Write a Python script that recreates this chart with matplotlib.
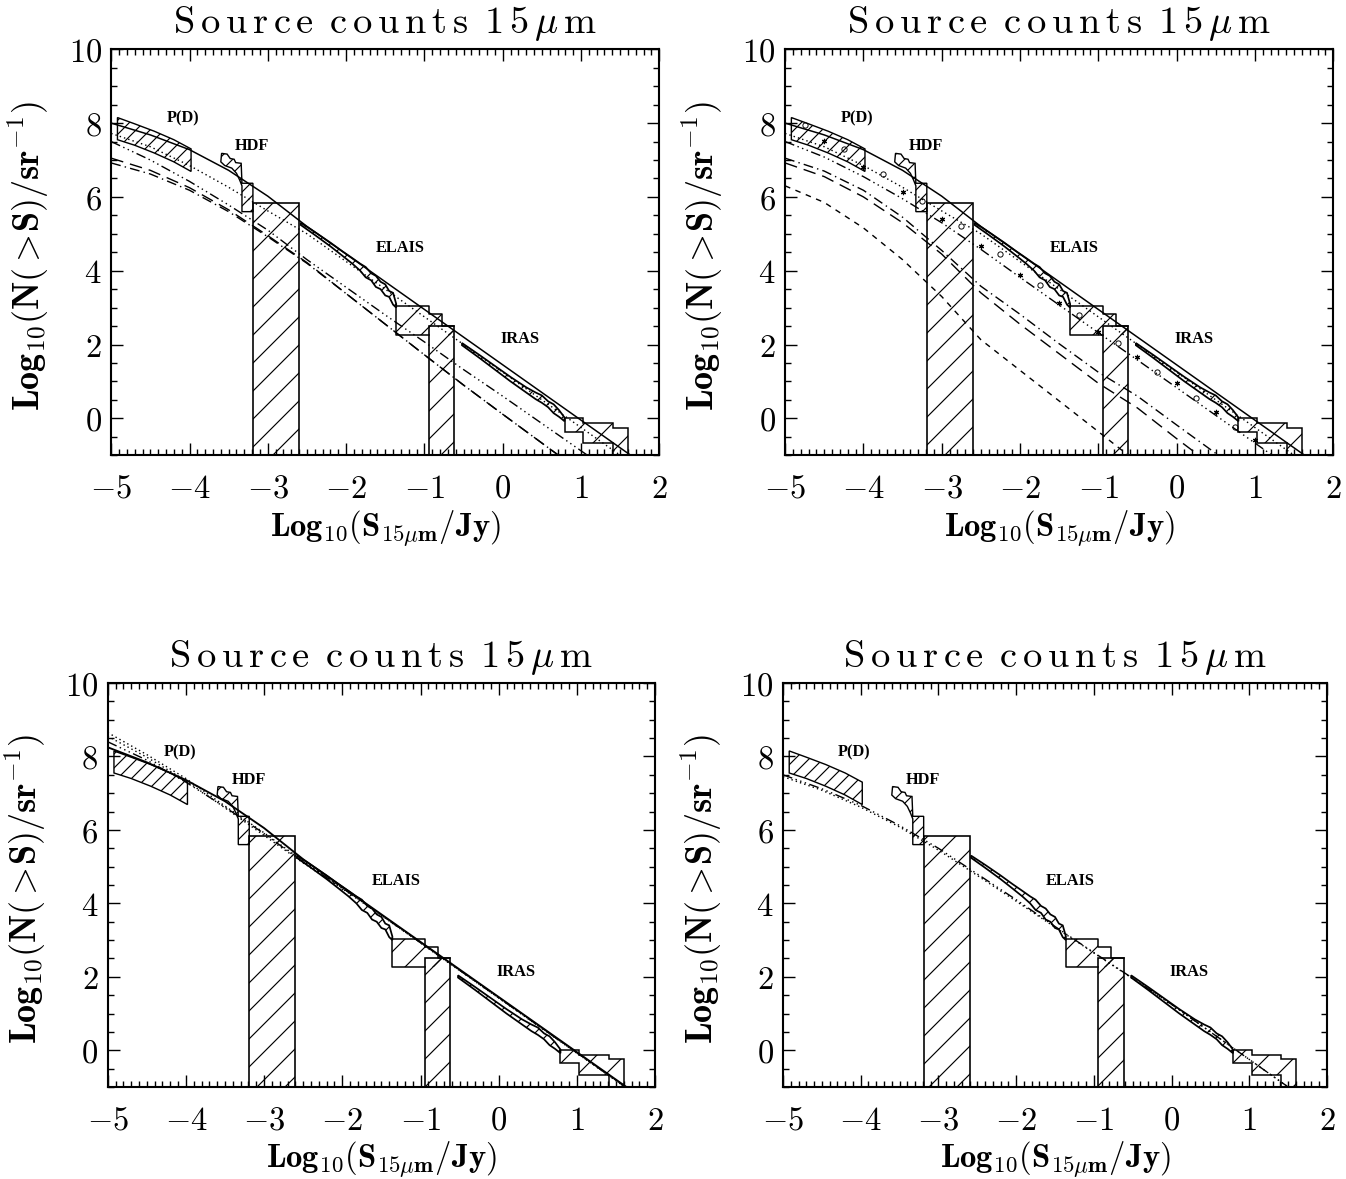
import numpy as np
import matplotlib
matplotlib.use("Agg")
import matplotlib.pyplot as plt
from matplotlib.ticker import MultipleLocator, FixedLocator, FuncFormatter

# ---------------- data ----------------
# P(D) fluctuation band
pd_x = [-4.92, -4.70, -4.45, -4.20, -3.98]
pd_hi = [8.15, 7.98, 7.78, 7.55, 7.30]
pd_lo = [7.55, 7.40, 7.19, 6.95, 6.69]

# HDF counts outline (polygon vertices)
hdf_x = [-3.59, -3.52, -3.48, -3.43, -3.41, -3.34, -3.33, -3.19, -3.19,
         -3.33, -3.33, -3.36, -3.40, -3.46, -3.55, -3.60]
hdf_y = [7.18, 7.16, 7.04, 7.02, 6.93, 6.91, 6.37, 6.37, 5.60,
         5.60, 6.30, 6.46, 6.64, 6.78, 6.85, 6.95]

# two deep-survey boxes (x range, top)
box1_x = [-3.19, -2.60]
box1_top = 5.83
box2_x = [-0.945, -0.617]
box2_top = 2.50

# ELAIS counts band
elais_x = [-2.58, -2.40, -2.20, -2.05, -1.92, -1.82, -1.75, -1.68, -1.62,
           -1.56, -1.50, -1.45, -1.40, -1.36]
elais_hi = [5.30, 5.05, 4.76, 4.53, 4.34, 4.19, 4.10, 3.93, 3.86,
            3.70, 3.63, 3.45, 3.40, 3.10]
elais_lo = [5.24, 4.97, 4.66, 4.41, 4.19, 4.00, 3.82, 3.74, 3.56,
            3.50, 3.33, 3.29, 3.08, 3.00]
# ELAIS bright bins (edges, top, bottom)
elais_edges = [-1.36, -0.945, -0.78, -0.617]
elais_step_hi = [3.04, 2.82, 2.50]
elais_step_lo = [2.27, 2.27, 2.27]

# IRAS counts band
iras_x = [-0.52, -0.30, -0.10, 0.10, 0.30, 0.42, 0.50, 0.58, 0.65, 0.72, 0.79]
iras_hi = [2.04, 1.72, 1.42, 1.12, 0.84, 0.70, 0.62, 0.46, 0.38, 0.22, 0.02]
iras_lo = [1.98, 1.64, 1.32, 1.00, 0.70, 0.52, 0.42, 0.30, 0.14, 0.04, -0.08]
# IRAS bright bins
iras_edges = [0.79, 1.03, 1.41, 1.60]
iras_step_hi = [0.00, -0.12, -0.25]
iras_step_lo = [-0.36, -0.68, -1.10]

# model curves, sampled at these fluxes
model_x = [-5.0, -4.5, -4.0, -3.5, -3.0, -2.5, -2.0, -1.5, -1.0, -0.5,
           0.0, 0.5, 1.0, 1.5, 2.0]
# panel 1
p1_total = [8.00, 7.68, 7.28, 6.72, 6.02, 5.20, 4.45, 3.70, 2.95, 2.20,
            1.45, 0.70, -0.05, -0.80, -1.55]
p1_dotted = [7.72, 7.36, 6.85, 6.26, 5.62, 5.00, 4.25, 3.50, 2.75, 2.00,
             1.25, 0.50, -0.25, -1.00, -1.75]
p1_dash3dot = [7.50, 7.00, 6.42, 5.78, 5.10, 4.30, 3.55, 2.80, 2.07, 1.32,
               0.60, -0.14, -0.88, -1.62, -2.36]
p1_dashed = [7.05, 6.72, 6.25, 5.65, 4.95, 4.22, 3.38, 2.55, 1.72, 0.90,
             0.11, -0.67, -1.45, -2.23, -3.00]
p1_dashdot = [6.92, 6.62, 6.18, 5.60, 4.92, 4.20, 3.38, 2.55, 1.72, 0.90,
              0.11, -0.67, -1.45, -2.23, -3.00]
# panel 2
p2_total = p1_total
p2_dotted = p1_dotted
p2_dash3dot = [7.50, 7.08, 6.55, 5.95, 5.30, 4.58, 3.82, 3.07, 2.32, 1.58,
               0.83, 0.08, -0.67, -1.42, -2.17]
p2_dashdot = [7.05, 6.70, 6.18, 5.45, 4.55, 3.58, 2.82, 2.02, 1.25, 0.60,
              -0.18, -0.95, -1.70, -2.45, -3.20]
p2_longdash = [6.92, 6.55, 6.00, 5.30, 4.45, 3.40, 2.55, 1.75, 0.95, 0.28,
               -0.55, -1.35, -2.15, -2.95, -3.75]
p2_shortdash = [6.30, 5.85, 5.16, 4.30, 3.30, 2.13, 1.30, 0.47, -0.36, -1.20,
                -2.05, -2.90, -3.75, -4.60, -5.45]
p2_circ_x = [-4.75, -4.25, -3.75, -3.25, -2.75, -2.25, -1.75, -1.25, -0.75,
             -0.25, 0.25, 0.75]
p2_circ_y = [7.95, 7.29, 6.61, 5.90, 5.21, 4.46, 3.61, 2.80, 2.03, 1.26,
             0.54, -0.23]
p2_ast_x = [-4.5, -4.0, -3.5, -3.0, -2.5, -2.0, -1.5, -1.0, -0.5, 0.0, 0.5, 1.0]
p2_ast_y = [7.52, 6.82, 6.14, 5.40, 4.68, 3.89, 3.12, 2.35, 1.67, 0.95,
            0.18, -0.59]
# panel 3
p3_total = [8.25, 7.84, 7.36, 6.78, 6.05, 5.20, 4.45, 3.70, 2.95, 2.20,
            1.45, 0.70, -0.05, -0.80, -1.55]
p3_dotted_a = [8.65, 8.05, 7.40, 6.65, 5.92, 5.15, 4.42, 3.68, 2.93, 2.18,
               1.43, 0.68, -0.07, -0.82, -1.57]
p3_dotted_b = [8.55, 7.98, 7.34, 6.60, 5.85, 5.10, 4.40, 3.67, 2.92, 2.17,
               1.42, 0.67, -0.08, -0.83, -1.58]
p3_dash3dot = [8.40, 7.90, 7.30, 6.62, 5.90, 5.12, 4.42, 3.68, 2.93, 2.18,
               1.43, 0.68, -0.07, -0.82, -1.57]
# panel 4
p4_dotted = [7.45, 7.08, 6.62, 6.08, 5.45, 4.76, 4.06, 3.35, 2.65, 1.95,
             1.25, 0.50, -0.25, -1.00, -1.75]
p4_dash3dot = [7.50, 7.12, 6.67, 6.12, 5.50, 4.80, 4.10, 3.37, 2.66, 1.96,
               1.25, 0.50, -0.25, -1.00, -1.75]

labels_text = ["P(D)", "HDF", "ELAIS", "IRAS"]
_g = r"\hspace{0.17}"
_w = r"\hspace{0.50}"
title_txt = ("$\\mathrm{" + _g.join("Source") + "}" + _w +
             "\\mathrm{" + _g.join("counts") + "}" + _w +
             "\\mathrm{1" + _g + "5}" + _g + "\\mu" + _g + "\\mathrm{m}$")
xlab = r"$\mathbf{Log_{10}(S_{15\mu m}/Jy)}$"
ylab = r"$\mathbf{Log_{10}(N(>\!S)/sr^{-1})}$"

# ---------------- styling ----------------
DPI = 84
plt.rcParams["mathtext.fontset"] = "cm"
plt.rcParams["font.family"] = ["DejaVu Serif"]
plt.rcParams["hatch.linewidth"] = 1.0
plt.rcParams["hatch.color"] = "black"

fig = plt.figure(figsize=(1346 / DPI, 1179 / DPI), dpi=DPI)
W, H = 1346.0, 1179.0


def axes_px(left, right, top, bottom):
    return fig.add_axes([left / W, 1 - bottom / H, (right - left) / W,
                         (bottom - top) / H])


LS = {
    "solid": "-",
    "dotted": (0, (1, 2.2)),
    "dash3dot": (0, (7, 2.5, 1, 2.5, 1, 2.5, 1, 2.5)),
    "dashdot": (0, (7, 3, 1, 3)),
    "longdash": (0, (9, 5)),
    "shortdash": (0, (4, 4)),
}


def hatched(ax, xs, ys, edge=True, lw=1.2, hatch="/"):
    ax.fill(xs, ys, facecolor="none", edgecolor="black", hatch=hatch,
            linewidth=lw if edge else 0.0, zorder=2)


def draw_data(ax):
    # P(D)
    hatched(ax, pd_x + pd_x[::-1], pd_hi + pd_lo[::-1], hatch="//")
    # HDF
    hatched(ax, hdf_x, hdf_y, hatch="//")
    # boxes
    for bx, bt in ((box1_x, box1_top), (box2_x, box2_top)):
        hatched(ax, [bx[0], bx[1], bx[1], bx[0]], [-1.0, -1.0, bt, bt], lw=1.4)
    # ELAIS band
    hatched(ax, elais_x + elais_x[::-1], elais_hi + elais_lo[::-1], lw=1.5,
            hatch="//")
    # ELAIS bins
    ex, ey = [], []
    for i in range(len(elais_step_hi)):
        ex += [elais_edges[i], elais_edges[i + 1]]
        ey += [elais_step_hi[i], elais_step_hi[i]]
    lx, ly = [], []
    for i in range(len(elais_step_lo) - 1, -1, -1):
        lx += [elais_edges[i + 1], elais_edges[i]]
        ly += [elais_step_lo[i], elais_step_lo[i]]
    hatched(ax, ex + lx, ey + ly, edge=False)
    ax.plot([elais_edges[1], elais_edges[0], elais_edges[0]] + ex,
            [elais_step_lo[0], elais_step_lo[0], elais_step_hi[0]] + ey,
            color="black", lw=1.3, zorder=3)
    # IRAS band
    hatched(ax, iras_x + iras_x[::-1], iras_hi + iras_lo[::-1], lw=1.5,
            hatch="//")
    # IRAS bins
    ix, iy = [], []
    for i in range(len(iras_step_hi)):
        ix += [iras_edges[i], iras_edges[i + 1]]
        iy += [iras_step_hi[i], iras_step_hi[i]]
    jx, jy = [], []
    for i in range(len(iras_step_lo) - 1, -1, -1):
        jx += [iras_edges[i + 1], iras_edges[i]]
        jy += [iras_step_lo[i], iras_step_lo[i]]
    hatched(ax, ix + jx, iy + jy, lw=1.3)
    # survey labels
    pos = [(-4.08, 8.12), (-3.20, 7.37), (-1.31, 4.62), (0.22, 2.14)]
    for t, (x, y) in zip(labels_text, pos):
        ax.text(x, y, t, ha="center", va="center", fontsize=14,
                fontweight="bold", family=["Liberation Serif", "DejaVu Serif"],
                zorder=5)


def style_axes(ax):
    ax.set_xlim(-5, 2)
    ax.set_ylim(-1, 10)
    ax.xaxis.set_major_locator(MultipleLocator(1))
    ax.xaxis.set_minor_locator(MultipleLocator(0.1))
    ax.yaxis.set_major_locator(FixedLocator([0, 2, 4, 6, 8, 10]))
    ax.yaxis.set_minor_locator(MultipleLocator(0.5))
    fmt = FuncFormatter(lambda v, p: r"$\mathbf{%d}$" % int(round(v)))
    ax.xaxis.set_major_formatter(fmt)
    ax.yaxis.set_major_formatter(fmt)
    ax.tick_params(which="both", direction="in", top=True, right=True,
                   width=1.2, colors="black")
    ax.tick_params(which="major", length=10)
    ax.tick_params(which="minor", length=5)
    ax.tick_params(axis="x", which="major", pad=15, labelsize=28)
    ax.tick_params(axis="y", which="major", pad=8, labelsize=28)
    for s in ax.spines.values():
        s.set_linewidth(1.8)
    ax.set_xlabel(xlab, fontsize=28)
    ax.set_ylabel(ylab, fontsize=31)
    ax.xaxis.set_label_coords(0.5, -0.180)
    ax.xaxis.label.set_va("center")
    ax.yaxis.set_label_coords(-0.150, 0.49)
    ax.yaxis.label.set_va("center")
    ax.text(0.5, 1.0 + 16.0 / 406, title_txt, transform=ax.transAxes,
            ha="center", va="baseline", fontsize=33)


def curve(ax, ys, style, lw=1.2):
    ax.plot(model_x, ys, color="black", linestyle=LS[style], lw=lw, zorder=4)


ax1 = axes_px(111.2, 659.3, 49.3, 455.2)
ax2 = axes_px(785.1, 1333.2, 49.3, 455.2)
ax3 = axes_px(107.7, 655.1, 683.0, 1087.0)
ax4 = axes_px(783.0, 1327.0, 683.0, 1087.0)

for ax in (ax1, ax2, ax3, ax4):
    draw_data(ax)
    style_axes(ax)

# panel 1
curve(ax1, p1_total, "solid", 1.3)
curve(ax1, p1_dotted, "dotted")
curve(ax1, p1_dash3dot, "dash3dot")
curve(ax1, p1_dashed, "longdash")
curve(ax1, p1_dashdot, "dashdot")

# panel 2
curve(ax2, p2_total, "solid", 1.3)
curve(ax2, p2_dotted, "dotted")
curve(ax2, p2_dash3dot, "dash3dot")
curve(ax2, p2_dashdot, "dashdot")
curve(ax2, p2_longdash, "longdash")
curve(ax2, p2_shortdash, "shortdash")
ax2.plot(p2_circ_x, p2_circ_y, linestyle="none", marker="o", ms=4.5,
         mfc="none", mec="black", mew=0.8, zorder=5)
ax2.plot(p2_ast_x, p2_ast_y, linestyle="none", marker=(6, 2, 0), ms=4.5,
         mec="black", mew=1.0, zorder=5)

# panel 3
curve(ax3, p3_total, "solid", 1.6)
curve(ax3, p3_dotted_a, "dotted")
curve(ax3, p3_dotted_b, "dotted")
curve(ax3, p3_dash3dot, "dash3dot")

# panel 4
curve(ax4, p4_dotted, "dotted")
curve(ax4, p4_dash3dot, "dash3dot")

fig.savefig("out.png", dpi=DPI)
